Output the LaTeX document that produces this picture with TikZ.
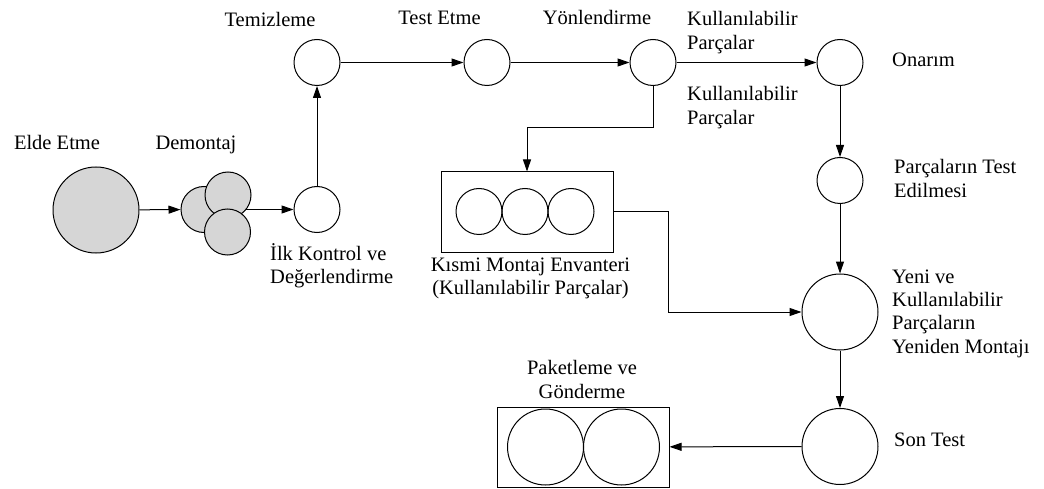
\documentclass[tikz,border=0pt]{standalone}
\usepackage{fontspec}
\setmainfont{Liberation Serif}
\usetikzlibrary{arrows.meta,backgrounds}

\definecolor{partgray}{RGB}{214,214,214}

% multi-line labels whose base anchor sits on the first line
\newcommand\leftstack[1]{\begin{tabular}[t]{@{}l@{}}#1\end{tabular}}
\newcommand\centerstack[1]{\begin{tabular}[t]{@{}c@{}}#1\end{tabular}}

\begin{document}
\begin{tikzpicture}[x=1pt,y=-1pt,
  every node/.style={inner sep=0pt},
  txt/.style={font=\fontsize{20.5}{23.5}\selectfont},
  stage/.style={circle,draw,line width=1pt,fill=white,minimum size=46pt},
  bigstage/.style={stage,minimum size=76pt},
  part/.style={circle,draw,line width=1pt,fill=partgray,minimum size=46pt},
  bin/.style={rectangle,draw,line width=1pt,fill=white,minimum width=172pt,minimum height=80pt},
  flow/.style={line width=1pt,-{Triangle[length=12pt,width=8pt]}},
  plain/.style={line width=1pt}]

\useasboundingbox (0,0) rectangle (1044,489);

% acquisition and disassembly
\node[bigstage,minimum size=86pt,fill=partgray] (elde) at (96,210) {};
\node[part] (demL) at (204,209.5) {};
\node[part] (demT) at (228,195) {};
\node[part] (demB) at (227.5,232) {};

% process stages
\node[stage] (ilk) at (317,209.5) {};
\node[stage] (tem) at (317,62.5) {};
\node[stage] (test) at (487,62.5) {};
\node[stage] (yon) at (653,62.5) {};
\node[stage] (onr) at (840,62.5) {};
\node[stage] (ptest) at (840,180.5) {};
\node[bigstage] (yeni) at (840,312) {};
\node[bigstage] (son) at (840,446.5) {};

% sub-assembly inventory
\node[bin] (kbox) at (527,212) {};
\node[stage,fill=none] (k1) at (479,211.5) {};
\node[stage,fill=none] (k2) at (525,211.5) {};
\node[stage,fill=none] (k3) at (571,211.5) {};

% packaging and shipping
\node[bin] (pbox) at (583,447) {};
\node[bigstage,fill=none] (p1) at (545.5,447) {};
\node[bigstage,fill=none] (p2) at (621.5,447) {};

% bend points
\coordinate (ysplit) at (653,128);
\coordinate (kturn) at (668,212);

\begin{scope}[on background layer]
  \draw[flow] (elde) -- (demL);
  \draw[flow] (demL.center) -- (ilk);
  \draw[flow] (ilk) -- (tem);
  \draw[flow] (tem) -- (test);
  \draw[flow] (test) -- (yon);
  \draw[flow] (yon) -- (onr);
  \draw[flow] (yon) -- (ysplit) -| (kbox);
  \draw[flow] (kbox.east) -- (kturn) |- (yeni);
  \draw[flow] (onr) -- (ptest);
  \draw[flow] (ptest) -- (yeni);
  \draw[flow] (yeni) -- (son);
  \draw[flow] (son) -- (pbox);
\end{scope}

% labels
\node[txt,anchor=base] (lelde) at (57,150) {Elde Etme};
\node[txt,anchor=base] (ldem) at (196,150) {Demontaj};
\node[txt,anchor=base] (ltem) at (270,27) {Temizleme};
\node[txt,anchor=base] (ltest) at (439.5,25) {Test Etme};
\node[txt,anchor=base] (lyon) at (597,25) {Yönlendirme};
\node[txt,anchor=base west] (lus1) at (687,26) {\leftstack{Kullanılabilir\\Parçalar}};
\node[txt,anchor=base west] (lus2) at (687,101) {\leftstack{Kullanılabilir\\Parçalar}};
\node[txt,anchor=base west] (lonr) at (892,67) {Onarım};
\node[txt,anchor=base west] (lptest) at (894,174) {\leftstack{Parçaların Test\\Edilmesi}};
\node[txt,anchor=base west] (lyeni) at (892,283) {\leftstack{Yeni ve\\Kullanılabilir\\Parçaların\\Yeniden Montajı}};
\node[txt,anchor=base west] (lson) at (894,446) {Son Test};
\node[txt,anchor=base west] (lilk) at (270,260) {\leftstack{İlk Kontrol ve\\Değerlendirme}};
\node[txt,anchor=base] (lkbox) at (530.5,271) {\centerstack{Kısmi Montaj Envanteri\\(Kullanılabilir Parçalar)}};
\node[txt,anchor=base] (lpbox) at (582,374.5) {\centerstack{Paketleme ve\\Gönderme}};

\end{tikzpicture}
\end{document}
